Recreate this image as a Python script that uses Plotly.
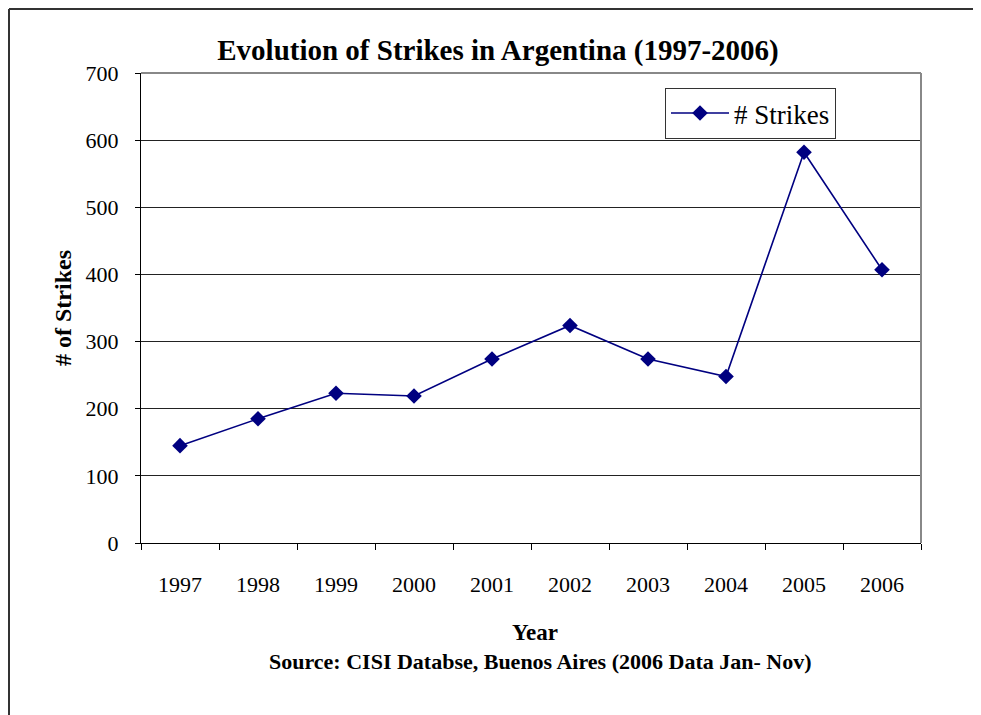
import plotly.graph_objects as go

years = ["1997", "1998", "1999", "2000", "2001", "2002", "2003", "2004", "2005", "2006"]
strikes = [145, 185, 223, 219, 274, 324, 274, 248, 582, 407]
y_ticks = [0, 100, 200, 300, 400, 500, 600, 700]

OFF = 8  # page body margin
W, H = 981 - OFF, 715 - OFF
L, R, T, B = 141 - OFF, 921 - OFF, 73 - OFF, 543 - OFF

def px(x):
    return (x - OFF - L) / (R - L)

def py(y):
    return (B - (y - OFF)) / (B - T)

FONT = "Liberation Serif"

fig = go.Figure()
fig.add_trace(go.Scatter(
    x=years, y=strikes, mode="lines+markers", name="# Strikes",
    line=dict(color="#000080", width=1.6),
    marker=dict(symbol="diamond", size=12, color="#000080"),
))

fig.update_layout(
    width=W, height=H,
    margin=dict(l=L, r=W - R, t=T, b=H - B),
    paper_bgcolor="white", plot_bgcolor="white",
    font=dict(family=FONT, size=22, color="black"),
    title=dict(text="<b>Evolution of Strikes in Argentina (1997-2006)</b>",
               x=(498 - OFF) / W, xref="container", xanchor="center",
               y=1 - (50 - OFF) / H, yref="container", yanchor="middle",
               font=dict(family=FONT, size=29, color="black")),
    showlegend=True,
    legend=dict(x=px(665), y=py(88), xanchor="left", yanchor="top",
                bordercolor="#333", borderwidth=1, bgcolor="white",
                font=dict(family=FONT, size=27, color="black"),
                itemwidth=58, tracegroupgap=0),
    xaxis=dict(type="category", range=[-0.5, 9.5], showgrid=False,
               showline=True, linecolor="black", linewidth=1,
               ticks="outside", tickson="boundaries", ticklen=6, tickcolor="black",
               ticklabelstandoff=22, tickfont=dict(size=22)),
    yaxis=dict(range=[0, 700], tickvals=y_ticks, showgrid=True, gridcolor="#222",
               gridwidth=1, zeroline=False,
               showline=True, linecolor="black", linewidth=1,
               ticks="outside", ticklen=5, tickcolor="black",
               ticklabelstandoff=12, tickfont=dict(size=22)),
    shapes=[
        dict(type="line", xref="paper", yref="paper", x0=0, x1=1, y0=1, y1=1,
             line=dict(color="#888", width=2), layer="above"),
        dict(type="line", xref="paper", yref="paper", x0=1, x1=1, y0=0, y1=1,
             line=dict(color="#888", width=2), layer="above"),
        dict(type="line", xref="paper", yref="paper", x0=px(9), x1=px(9), y0=py(9), y1=py(730),
             line=dict(color="#333", width=2)),
        dict(type="line", xref="paper", yref="paper", x0=px(9), x1=px(1000), y0=py(9), y1=py(9),
             line=dict(color="#333", width=2)),
    ],
    annotations=[
        dict(text="<b># of Strikes</b>", textangle=-90, xref="paper", yref="paper",
             x=px(63), y=py(308), xanchor="center", yanchor="middle", showarrow=False,
             font=dict(family=FONT, size=24, color="black")),
        dict(text="<b>Year</b>", xref="paper", yref="paper",
             x=px(535), y=py(632), xanchor="center", yanchor="middle", showarrow=False,
             font=dict(family=FONT, size=23, color="black")),
        dict(text="<b>Source: CISI Databse, Buenos Aires (2006 Data Jan- Nov)</b>", xref="paper", yref="paper",
             x=px(540), y=py(662), xanchor="center", yanchor="middle", showarrow=False,
             font=dict(family=FONT, size=22, color="black")),
    ],
)

fig.write_html("out.html")
